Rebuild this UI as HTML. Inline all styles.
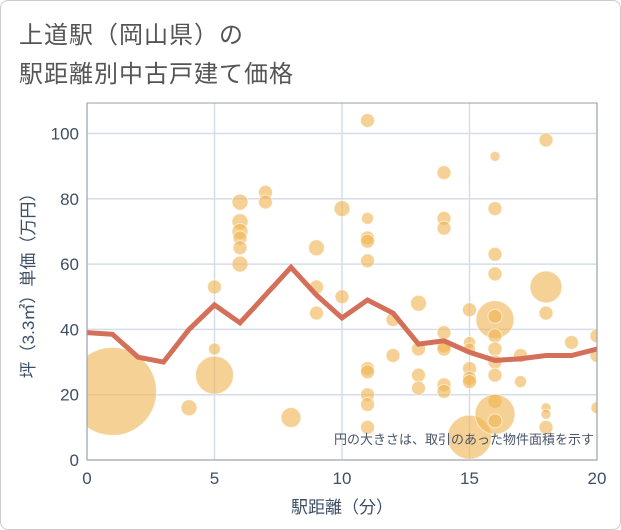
<!DOCTYPE html>
<html><head><meta charset="utf-8"><style>
body{margin:0;background:#fff;font-family:"Liberation Sans","Noto Sans CJK JP",sans-serif}
#wrap{position:relative;width:619px;height:528px;border:1px solid #ccc;border-radius:8px;overflow:hidden}
.t{position:absolute;left:18px;font-size:24px;color:#555;letter-spacing:1px}
</style></head><body>
<div id="wrap">
<div class="t" style="top:14px">上道駅（岡山県）の</div>
<div class="t" style="top:53px">駅距離別中古戸建て価格</div>
<svg id="c" width="621" height="530" style="position:absolute;left:-1px;top:-1px"></svg>
</div>
<script>
const lineX=[0,1,2,3,4,5,6,7,8,9,10,11,12,13,14,15,16,17,18,19,20];
const lineY=[39,38.5,31.5,30,40,47.5,42,50.5,59,50.5,43.5,49,45,35.5,36.5,33,30.5,31,32,32,34];
const bubX=[1,4,5,5,5,6,6,6,6,6,6,7,7,8,9,9,9,10,10,11,11,11,11,11,11,11,11,11,11,12,12,13,13,13,13,14,14,14,14,14,14,14,14,15,15,15,15,15,15,15,16,16,16,16,16,16,16,16,16,16,16,16,16,17,17,18,18,18,18,18,18,19,20,20,20];
const bubY=[21,16,26,34,53,79,73,70,68,65,60,82,79,13,65,53,45,77,50,104,74,68,67,61,28,27,20,17,10,43,32,48,34,26,22,88,74,71,39,35,34,23,21,46,36,34,28,25,24,7,93,77,63,57,43,44,38,34,30,26,18,14,12,32,24,98,53,45,16,14,10,36,38,32,16];
const bubR=[44,8,19,6,7,8,8,8,7,7,8,7,7,10,8,7,7,8,7,7,6,7,7,7,7,7,7,7,7,7,7,8,7,7,7,7,7,7,7,7,7,7,7,7,6,6,7,7,7,22,5,7,7,7,19,7,7,7,7,7,7,20,7,7,6,7,16,7,5,5,7,7,7,7,6];
const xTicks=[0,5,10,15,20];
const yTicks=[0,20,40,60,80,100];
const L=87,R=597,T=103,B=460;
const sx=v=>L+v*(R-L)/20, sy=v=>B-v*3.265;
const svg=document.getElementById('c');const NS='http://www.w3.org/2000/svg';
function mk(t,a,p){const e=document.createElementNS(NS,t);for(const k in a)e.setAttribute(k,a[k]);(p||svg).appendChild(e);return e;}
const clip=mk('clipPath',{id:'pc'});mk('rect',{x:L,y:T,width:R-L,height:B-T},clip);
for(const v of yTicks){const g=mk('line',{x1:L,x2:R,y1:sy(v),y2:sy(v),stroke:'#d5dde8','stroke-width':1.5});


const t=mk('text',{x:L-8,y:sy(v)+6,'text-anchor':'end','font-size':17,fill:'#3d4f66'});t.textContent=v;

}
for(const v of xTicks){const g=mk('line',{x1:sx(v),x2:sx(v),y1:T,y2:B,stroke:'#d5dde8','stroke-width':1.5});


const t=mk('text',{x:sx(v),y:B+24,'text-anchor':'middle','font-size':17,fill:'#3d4f66'});t.textContent=v;

}
const gb=mk('g',{'clip-path':'url(#pc)'});


for(let i=0;i<bubX.length;i++){const c=mk('circle',{cx:sx(bubX[i]),cy:sy(bubY[i]),r:bubR[i],fill:'rgba(240,178,78,0.6)',stroke:'rgba(255,255,255,0.6)','stroke-width':1},gb);

}
const pl=mk('polyline',{points:lineX.map((x,i)=>sx(x)+','+sy(lineY[i])).join(' '),fill:'none',stroke:'#d4705a','stroke-width':5,'stroke-linejoin':'miter','clip-path':'url(#pc)'});


const fr=mk('rect',{x:L,y:T,width:R-L,height:B-T,fill:'none',stroke:'#9aa0a8','stroke-width':1});


const note=mk('text',{x:R-3,y:444,'text-anchor':'end','font-size':13,fill:'#4a5568'});note.textContent='円の大きさは、取引のあった物件面積を示す';


const xt=mk('text',{x:(L+R)/2,y:513,'text-anchor':'middle','font-size':17,fill:'#3d4f66'});xt.textContent='駅距離（分）';


const yt=mk('text',{x:0,y:0,'text-anchor':'middle','font-size':17,fill:'#3d4f66',transform:'translate(34,'+((T+B)/2)+') rotate(-90)'});yt.textContent='坪（3.3㎡）単価（万円）';


</script>
</body></html>
